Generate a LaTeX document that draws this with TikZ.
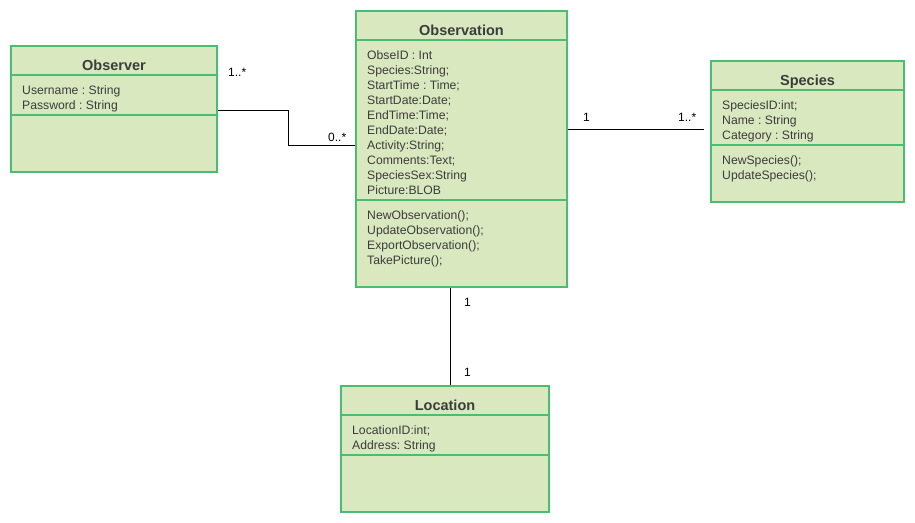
\documentclass[tikz,border=0pt]{standalone}
\usepackage{fontspec}
\setmainfont{Liberation Sans}
\usetikzlibrary{positioning}
\definecolor{boxfill}{RGB}{217,232,190}
\definecolor{boxline}{RGB}{72,190,112}
\definecolor{boxtext}{RGB}{60,60,60}
\frenchspacing

\begin{document}
\begin{tikzpicture}[x=1pt, y=-1pt,
    classbox/.style={draw=boxline, fill=boxfill, line width=2pt, inner sep=0pt},
    divider/.style={draw=boxline, line width=2pt},
    title/.style={font=\fontsize{14.5}{17}\selectfont\bfseries, text=boxtext, anchor=base, inner sep=0pt},
    member/.style={font=\fontsize{12.2}{15}\selectfont, text=boxtext, anchor=base west, inner sep=0pt},
    assoc/.style={draw=black, line width=1pt},
    mult/.style={font=\fontsize{12}{14}\selectfont, anchor=base west, inner sep=0pt}]
    \useasboundingbox (0,0) rectangle (915,522);

    % Class boxes
    \node[classbox, minimum width=206pt, minimum height=126pt] (observer) at (114,109) {};
    \node[classbox, minimum width=211pt, minimum height=276pt] (observation) at (461.5,149) {};
    \node[classbox, minimum width=193pt, minimum height=141pt] (species) at (807.5,131.5) {};
    \node[classbox, minimum width=208pt, minimum height=125.5pt] (location) at (445,448.75) {};

    % Dividers
    \foreach \c/\d in {observer/30, observer/70, observation/30, observation/190,
                       species/30, species/85, location/30, location/70} {
      \draw[divider] ([yshift=-\d pt]\c.north west) -- ([yshift=-\d pt]\c.north east);
    }

    % Titles
    \node[title] (observer-title) at (114,70.5) {Observer};
    \node[title] (observation-title) at (461.5,35) {Observation};
    \node[title] (species-title) at (807.5,85) {Species};
    \node[title] (location-title) at (445,410) {Location};

    % Attributes and operations
    \foreach \m [count=\i from 0] in {Username : String, Password : String}
      \node[member] (observer-a\i) at (22,{94.5+15*\i}) {\m};
    \foreach \m [count=\i from 0] in {ObseID : Int, Species:String;, StartTime : Time;,
        StartDate:Date;, EndTime:Time;, EndDate:Date;, Activity:String;,
        Comments:Text;, SpeciesSex:String, Picture:BLOB}
      \node[member] (observation-a\i) at (367,{59.5+15*\i}) {\m};
    \foreach \m [count=\i from 0] in {NewObservation();, UpdateObservation();,
        ExportObservation();, TakePicture();}
      \node[member] (observation-o\i) at (367,{219.5+15*\i}) {\m};
    \foreach \m [count=\i from 0] in {SpeciesID:int;, Name : String, Category : String}
      \node[member] (species-a\i) at (722,{109.5+15*\i}) {\m};
    \foreach \m [count=\i from 0] in {NewSpecies();, UpdateSpecies();}
      \node[member] (species-o\i) at (722,{164.5+15*\i}) {\m};
    \foreach \m [count=\i from 0] in {LocationID:int;, Address: String}
      \node[member] (location-a\i) at (352,{434.5+15*\i}) {\m};

    % Associations
    \draw[assoc] ([yshift=-1pt]observer.east) -- ++(70,0) |- ([yshift=4pt]observation.west);
    \coordinate (species-end) at ([yshift=2.5pt]species.west);
    \draw[assoc, shorten >=6pt] (observation.east |- species-end) -- (species-end);
    \coordinate (location-top) at ([xshift=-11.5pt]observation.south);
    \draw[assoc] (location-top) -- (location-top |- location.north);

    % Multiplicities
    \node[mult] (m-observer) at (228,76) {1..*};
    \node[mult] (m-observation-l) at (328,141.3) {0..*};
    \node[mult] (m-observation-r) at (583,121) {1};
    \node[mult] (m-species) at (678,121) {1..*};
    \node[mult] (m-observation-b) at (464,306) {1};
    \node[mult] (m-location) at (464,376) {1};

\end{tikzpicture}
\end{document}
